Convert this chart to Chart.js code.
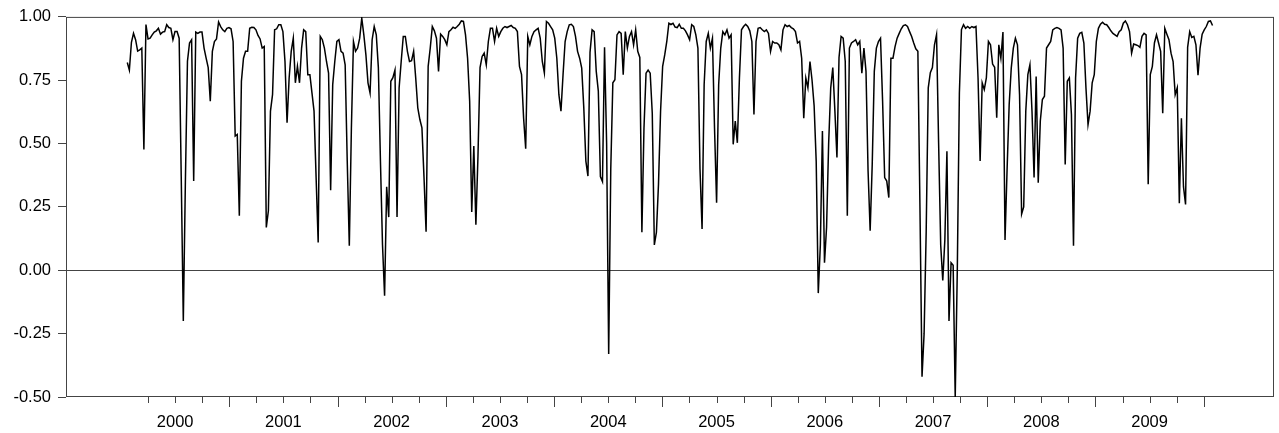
<!DOCTYPE html>
<html>
<head>
<meta charset="utf-8">
<script src="https://cdn.jsdelivr.net/npm/chart.js@4.4.1/dist/chart.umd.min.js"></script>
<style>
  html, body { margin: 0; padding: 0; background: #fff; }
  #wrap { width: 1279px; height: 433px; }
</style>
</head>
<body>
<div id="wrap"><canvas id="corrChart"></canvas></div>
<script>
// weekly observations, first week ends ~22 Jan 2000
const firstWeek = 2000.058;
const weekLen = 7 / 365.25;

const w2000 = [0.82, 0.79, 0.90, 0.935, 0.91, 0.865, 0.87, 0.877, 0.477, 0.97,
  0.913, 0.916, 0.929, 0.94, 0.945, 0.955, 0.932, 0.94, 0.942, 0.969,
  0.958, 0.955, 0.91, 0.942, 0.942, 0.916, 0.37, -0.20, 0.35, 0.825,
  0.897, 0.91, 0.352, 0.94, 0.935, 0.94, 0.94, 0.877, 0.837, 0.80,
  0.667, 0.864, 0.903, 0.913, 0.98, 0.962, 0.949, 0.942, 0.955, 0.958];
const w2001 = [0.953, 0.903, 0.53, 0.536, 0.215, 0.746, 0.837, 0.864, 0.864, 0.955,
  0.959, 0.958, 0.949, 0.927, 0.913, 0.877, 0.883, 0.169, 0.235, 0.628,
  0.693, 0.949, 0.953, 0.969, 0.969, 0.942, 0.824, 0.582, 0.759, 0.864,
  0.916, 0.74, 0.805, 0.74, 0.877, 0.949, 0.942, 0.772, 0.772, 0.70,
  0.628, 0.366, 0.11, 0.923, 0.91, 0.877, 0.824, 0.778, 0.316, 0.733,
  0.824, 0.903];
const w2002 = [0.91, 0.864, 0.857, 0.811, 0.431, 0.097, 0.562, 0.903, 0.864, 0.877,
  0.916, 0.995, 0.929, 0.85, 0.74, 0.70, 0.91, 0.962, 0.929, 0.80,
  0.431, 0.10, -0.10, 0.33, 0.21, 0.746, 0.76, 0.79, 0.21, 0.72,
  0.824, 0.923, 0.923, 0.864, 0.824, 0.827, 0.864, 0.759, 0.641, 0.595,
  0.562, 0.366, 0.152, 0.805, 0.877, 0.962, 0.945, 0.916, 0.785, 0.932,
  0.923, 0.91];
const w2003 = [0.89, 0.942, 0.949, 0.959, 0.955, 0.962, 0.971, 0.984, 0.982, 0.929,
  0.837, 0.667, 0.23, 0.49, 0.18, 0.45, 0.80, 0.844, 0.857, 0.811,
  0.903, 0.955, 0.955, 0.903, 0.955, 0.923, 0.942, 0.955, 0.962, 0.958,
  0.962, 0.966, 0.958, 0.955, 0.942, 0.805, 0.772, 0.60, 0.48, 0.923,
  0.89, 0.923, 0.942, 0.949, 0.955, 0.916, 0.824, 0.779, 0.982, 0.975,
  0.962, 0.949];
const w2004 = [0.916, 0.837, 0.693, 0.628, 0.772, 0.903, 0.942, 0.969, 0.971, 0.962,
  0.923, 0.864, 0.837, 0.798, 0.641, 0.431, 0.372, 0.86, 0.949, 0.942,
  0.785, 0.707, 0.37, 0.35, 0.88, 0.50, -0.33, 0.40, 0.74, 0.752,
  0.929, 0.942, 0.935, 0.772, 0.942, 0.877, 0.923, 0.942, 0.89, 0.949,
  0.864, 0.84, 0.15, 0.56, 0.778, 0.79, 0.778, 0.62, 0.10, 0.15,
  0.34, 0.628];
const w2005 = [0.805, 0.85, 0.903, 0.975, 0.97, 0.975, 0.96, 0.958, 0.971, 0.955,
  0.955, 0.945, 0.929, 0.91, 0.969, 0.962, 0.929, 0.877, 0.40, 0.163,
  0.733, 0.903, 0.935, 0.877, 0.916, 0.562, 0.267, 0.733, 0.877, 0.942,
  0.929, 0.949, 0.916, 0.929, 0.497, 0.589, 0.503, 0.759, 0.949, 0.962,
  0.971, 0.962, 0.945, 0.903, 0.615, 0.903, 0.955, 0.958, 0.949, 0.942,
  0.949, 0.935, 0.864];
const w2006 = [0.903, 0.897, 0.897, 0.89, 0.87, 0.949, 0.969, 0.962, 0.966, 0.958,
  0.953, 0.942, 0.897, 0.903, 0.837, 0.60, 0.759, 0.72, 0.824, 0.75,
  0.65, 0.43, -0.09, 0.10, 0.55, 0.03, 0.17, 0.50, 0.72, 0.80,
  0.63, 0.445, 0.84, 0.923, 0.916, 0.824, 0.215, 0.877, 0.897, 0.903,
  0.91, 0.89, 0.903, 0.778, 0.877, 0.785, 0.392, 0.156, 0.418, 0.785,
  0.877, 0.903];
const w2007 = [0.916, 0.667, 0.366, 0.352, 0.287, 0.837, 0.837, 0.883, 0.916, 0.935,
  0.953, 0.966, 0.969, 0.962, 0.942, 0.923, 0.897, 0.874, 0.864, 0.25,
  -0.42, -0.25, 0.15, 0.72, 0.78, 0.80, 0.89, 0.93, 0.50, 0.10,
  -0.04, 0.12, 0.47, -0.20, 0.03, 0.02, -0.50, 0.00, 0.70, 0.95,
  0.969, 0.955, 0.962, 0.955, 0.962, 0.958, 0.962, 0.759, 0.431, 0.74,
  0.713, 0.759];
const w2008 = [0.903, 0.89, 0.814, 0.801, 0.602, 0.89, 0.837, 0.94, 0.12, 0.40,
  0.654, 0.798, 0.877, 0.916, 0.89, 0.693, 0.222, 0.25, 0.628, 0.772,
  0.811, 0.628, 0.366, 0.765, 0.346, 0.589, 0.674, 0.687, 0.877, 0.89,
  0.903, 0.949, 0.955, 0.958, 0.955, 0.949, 0.877, 0.418, 0.746, 0.759,
  0.615, 0.097, 0.759, 0.916, 0.935, 0.939, 0.897, 0.72, 0.575, 0.628,
  0.74, 0.772];
const w2009 = [0.903, 0.955, 0.971, 0.979, 0.971, 0.969, 0.958, 0.945, 0.935, 0.929,
  0.923, 0.942, 0.949, 0.975, 0.984, 0.969, 0.942, 0.857, 0.893, 0.89,
  0.887, 0.88, 0.923, 0.935, 0.929, 0.34, 0.772, 0.805, 0.897, 0.929,
  0.897, 0.864, 0.62, 0.955, 0.932, 0.91, 0.857, 0.824, 0.693, 0.72,
  0.265, 0.60, 0.33, 0.26, 0.88, 0.942, 0.919, 0.923, 0.89, 0.77,
  0.877, 0.932];
const w2010 = [0.949, 0.962, 0.982, 0.984, 0.966];

const yearLabels = ['2000', '2001', '2002', '2003', '2004', '2005', '2006', '2007', '2008', '2009'];
const yMin = -0.5, yMax = 1.0, yStep = 0.25;

const values = [].concat(w2000, w2001, w2002, w2003, w2004, w2005, w2006, w2007, w2008, w2009, w2010);
const points = values.map((v, i) => ({ x: firstWeek + i * weekLen, y: v }));

const FONT = { family: "'Liberation Sans', Arial, sans-serif", size: 16.5 };
const FRAME = '#444';

// frame, zero line and the quarter / year tick marks on the time axis
const frameMarks = {
  id: 'frameMarks',
  beforeDatasetsDraw(chart) {
    const { ctx, chartArea: a, scales: { y } } = chart;
    ctx.save();
    ctx.strokeStyle = FRAME;
    ctx.lineWidth = 1;
    ctx.strokeRect(a.left + 0.5, a.top + 0.5, a.right - a.left - 1, a.bottom - a.top - 1);
    const zy = Math.round(y.getPixelForValue(0)) + 0.5;
    ctx.beginPath();
    ctx.moveTo(a.left, zy);
    ctx.lineTo(a.right, zy);
    ctx.stroke();
    ctx.restore();
  },
  afterDraw(chart) {
    const { ctx, chartArea: a, scales: { x } } = chart;
    ctx.save();
    ctx.strokeStyle = FRAME;
    ctx.lineWidth = 1;
    for (let q = 1; q <= yearLabels.length * 4; q++) {
      const px = Math.round(x.getPixelForValue(2000 + q / 4)) + 0.5;
      const len = q % 4 === 0 ? 10 : 6;
      ctx.beginPath();
      ctx.moveTo(px, a.bottom);
      ctx.lineTo(px, a.bottom + len);
      ctx.stroke();
    }
    ctx.restore();
  }
};

new Chart('corrChart', {
  type: 'line',
  data: {
    datasets: [{
      data: points,
      borderColor: '#000',
      borderWidth: 1.5,
      pointRadius: 0,
      tension: 0,
      fill: false
    }]
  },
  options: {
    responsive: true,
    maintainAspectRatio: false,
    animation: false,
    layout: { padding: { left: 0, right: 5, top: 15, bottom: 0 } },
    plugins: { legend: { display: false }, tooltip: { enabled: false } },
    scales: {
      x: {
        type: 'linear',
        min: 1999.492,
        max: 2010.649,
        grid: { display: false },
        border: { display: false },
        afterBuildTicks: (scale) => {
          scale.ticks = yearLabels.map((l, k) => ({ value: 2000.5 + k }));
        },
        afterFit: (scale) => { scale.height = 36; },
        ticks: {
          autoSkip: false,
          maxRotation: 0,
          padding: 8,
          color: '#000',
          font: FONT,
          callback: (v, i) => yearLabels[i]
        }
      },
      y: {
        min: yMin,
        max: yMax,
        grid: { drawOnChartArea: false, tickLength: 8, tickColor: FRAME },
        border: { display: false },
        afterFit: (scale) => { scale.width = 66; },
        ticks: {
          stepSize: yStep,
          padding: 7,
          color: '#000',
          font: FONT,
          callback: (v) => v.toFixed(2)
        }
      }
    }
  },
  plugins: [frameMarks]
});
</script>
</body>
</html>
